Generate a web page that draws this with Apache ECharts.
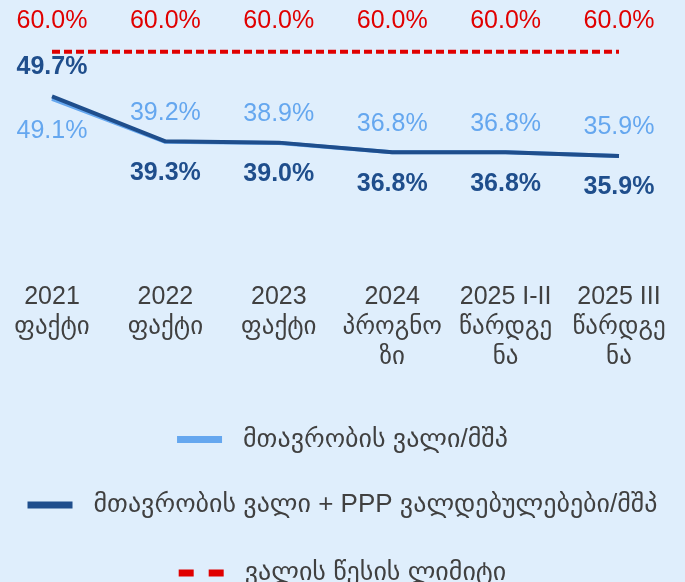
<!DOCTYPE html>
<html>
<head>
<meta charset="utf-8">
<script src="https://cdn.jsdelivr.net/npm/echarts@6/dist/echarts.min.js"></script>
<style>
  html, body { margin: 0; padding: 0; background: #dfeefc; }
  #chart { width: 685px; height: 582px; }
</style>
</head>
<body>
<div id="chart"></div>
<script>
const categories = ['2021\nფაქტი', '2022\nფაქტი', '2023\nფაქტი', '2024\nპროგნო\nზი', '2025 I-II\nწარდგე\nნა', '2025 III\nწარდგე\nნა'];
const govDebt = [49.1, 39.2, 38.9, 36.8, 36.8, 35.9];
const govDebtPPP = [49.7, 39.3, 39.0, 36.8, 36.8, 35.9];
const debtLimit = [60.0, 60.0, 60.0, 60.0, 60.0, 60.0];

const nameGov = 'მთავრობის ვალი/მშპ';
const namePPP = 'მთავრობის ვალი + PPP ვალდებულებები/მშპ';
const nameLimit = 'ვალის წესის ლიმიტი';

const FONT = "'Liberation Sans', 'DejaVu Sans', sans-serif";
const fmt = function (p) { return p.value.toFixed(1) + '%'; };

const chart = echarts.init(document.getElementById('chart'));

const legendBase = {
    left: 'center',
    itemWidth: 45,
    itemHeight: 7,
    textStyle: {
        fontFamily: FONT,
        fontSize: 26,
        lineHeight: 30,
        color: '#404040',
        padding: [0, 0, 0, 16]
    },
    selectedMode: false
};

const option = {
    backgroundColor: '#dfeefc',
    animation: false,
    grid: {
        left: 52,
        right: 66,
        top: 8.4,
        bottom: 313.8
    },
    xAxis: {
        type: 'category',
        data: categories,
        boundaryGap: false,
        axisLine: { show: false },
        axisTick: { show: false },
        axisLabel: {
            interval: 0,
            margin: 14,
            fontFamily: FONT,
            fontSize: 25,
            lineHeight: 30,
            color: '#404040'
        }
    },
    yAxis: {
        type: 'value',
        min: 10,
        max: 70,
        show: false,
        splitLine: { show: false }
    },
    legend: [
        Object.assign({ top: 419.5, data: [{ name: nameGov, icon: 'rect' }] }, legendBase),
        Object.assign({ top: 485, data: [{ name: namePPP, icon: 'rect' }] }, legendBase),
        Object.assign({ top: 553, data: [{ name: nameLimit, icon: 'path://M0,0h15v7h-15z M30,0h15v7h-15z' }] }, legendBase)
    ],
    series: [
        {
            name: nameGov,
            type: 'line',
            data: govDebt.map(function (v, i) {
                return i === 0 ? { value: v, label: { position: 'bottom', distance: 20 } } : v;
            }),
            symbol: 'circle',
            symbolSize: 0,
            color: '#65a7ef',
            lineStyle: { width: 4, color: '#65a7ef' },
            label: {
                show: true,
                position: 'top',
                distance: 16,
                formatter: fmt,
                fontFamily: FONT,
                fontSize: 25,
                color: '#65a7ef'
            },
            z: 2
        },
        {
            name: namePPP,
            type: 'line',
            data: govDebtPPP.map(function (v, i) {
                return i === 0 ? { value: v, label: { position: 'top', distance: 17 } } : v;
            }),
            symbol: 'circle',
            symbolSize: 0,
            color: '#1f4e8c',
            lineStyle: { width: 4, color: '#1f4e8c' },
            label: {
                show: true,
                position: 'bottom',
                distance: 19,
                formatter: fmt,
                fontFamily: FONT,
                fontSize: 25,
                fontWeight: 'bold',
                color: '#1f4e8c'
            },
            z: 3
        },
        {
            name: nameLimit,
            type: 'line',
            data: debtLimit,
            symbol: 'circle',
            symbolSize: 0,
            color: '#e00000',
            lineStyle: { width: 4, color: '#e00000', type: [8, 4] },
            label: {
                show: true,
                position: 'top',
                distance: 18,
                formatter: fmt,
                fontFamily: FONT,
                fontSize: 25,
                color: '#e00000'
            },
            z: 1
        }
    ]
};
option && chart.setOption(option);
</script>
</body>
</html>
